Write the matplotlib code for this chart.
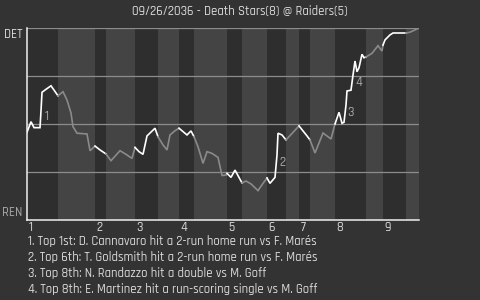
import matplotlib
matplotlib.use("Agg")
import matplotlib.pyplot as plt
from matplotlib.transforms import offset_copy

# game progress (x) and DET win probability (y) at each plotted play
prog = [0, 4, 7, 13, 14, 15, 18, 24, 31, 36, 40, 44, 46, 50, 60, 63, 68, 73, 79, 84,
        93, 99, 105, 108, 112, 116, 120, 128, 131, 136, 140, 143, 148, 152, 160, 164, 167, 171, 176, 180,
        185, 191, 195, 199, 200, 204, 208, 215, 219, 224, 231, 236, 240, 243, 248, 250, 251, 255, 259, 272,
        280, 283, 288, 296, 304, 308, 312, 315, 317, 319, 320, 324, 326, 328, 330, 332, 335, 337, 339, 345,
        351, 355, 356, 358, 363, 366, 379, 383, 392]
win_prob = [0.457, 0.512, 0.481, 0.481, 0.569, 0.665, 0.677, 0.699, 0.647, 0.668, 0.625, 0.557, 0.486, 0.452, 0.448, 0.361, 0.385, 0.365, 0.344, 0.309,
            0.361, 0.342, 0.321, 0.378, 0.356, 0.342, 0.438, 0.478, 0.434, 0.391, 0.365, 0.443, 0.465, 0.478, 0.443, 0.464, 0.434, 0.382, 0.295, 0.356,
            0.347, 0.326, 0.232, 0.234, 0.243, 0.222, 0.260, 0.193, 0.203, 0.188, 0.153, 0.191, 0.219, 0.191, 0.222, 0.339, 0.452, 0.443, 0.417, 0.490,
            0.438, 0.417, 0.349, 0.453, 0.422, 0.500, 0.561, 0.504, 0.509, 0.599, 0.672, 0.676, 0.755, 0.828, 0.772, 0.793, 0.863, 0.845, 0.849, 0.868,
            0.908, 0.880, 0.911, 0.938, 0.964, 0.974, 0.974, 0.978, 1.0]

# start of each half inning (top 1st, bottom 1st, ...) plus game end
half_starts = [0, 31, 68, 79, 108, 131, 152, 167, 200, 215, 240, 259, 272, 283, 308, 339, 356, 379, 392]
innings = ["1", "2", "3", "4", "5", "6", "7", "8", "9"]

key_x = [17.5, 252, 320, 328.5]
key_y = [0.543, 0.304, 0.561, 0.72]
key_notes = [
    "1. Top 1st: D. Cannavaro hit a 2-run home run vs F. Marés",
    "2. Top 6th: T. Goldsmith hit a 2-run home run vs F. Marés",
    "3. Top 8th: N. Randazzo hit a double vs M. Goff",
    "4. Top 8th: E. Martinez hit a run-scoring single vs M. Goff",
]
title = "09/26/2036 - Death Stars(8) @ Raiders(5)"

plt.rcParams["font.family"] = ["Rajdhani", "DejaVu Sans"]
plt.rcParams["font.weight"] = 500

BG = "#333333"
DARK = "#2e2e2e"
LIGHT = "#444444"
TXT = "#d8d8d8"
FS = 9.2

fig = plt.figure(figsize=(4.8, 3.0), dpi=100, facecolor=BG)
ax = fig.add_axes([27 / 480, 1 - 220 / 300, 392 / 480, 192 / 300])
ax.set_facecolor(BG)
ax.set_xlim(half_starts[0], half_starts[-1])
ax.set_ylim(0, 1)

for i in range(len(half_starts) - 1):
    a, b = half_starts[i], half_starts[i + 1]
    top = i % 2 == 0
    ax.axvspan(a, b, color=DARK if top else LIGHT, lw=0, zorder=0)
    xs = [x for x in prog if a <= x <= b]
    ys = [p for x, p in zip(prog, win_prob) if a <= x <= b]
    ax.plot(xs, ys, color="#ffffff" if top else "#8a8a8a", lw=1.2, zorder=3,
            solid_joinstyle="miter")

for g in (0.25, 0.5, 0.75, 1.0):
    ax.axhline(g, color="#8c8c8c", lw=0.9, zorder=1)

for s in ("top", "right"):
    ax.spines[s].set_visible(False)
for s in ("left", "bottom"):
    ax.spines[s].set_color("#f0f0f0")
    ax.spines[s].set_linewidth(1.1)
    ax.spines[s].set_zorder(4)
ax.set_xticks([])
ax.set_yticks([])

for n, x, y in zip(range(1, 5), key_x, key_y):
    ax.text(x, y, str(n), color="#a8a8a8", fontsize=FS, ha="left", va="center", zorder=5)

tr = offset_copy(ax.get_xaxis_transform(), fig=fig, x=1, y=0, units="points")
for lab, x in zip(innings, half_starts[0::2]):
    ax.text(x, -0.035, lab, transform=tr, color=TXT, fontsize=FS, ha="left", va="center")

ax.text(-0.012, 0.968, "DET", transform=ax.transAxes, color=TXT, fontsize=FS, ha="right", va="center")
ax.text(-0.012, 0.04, "REN", transform=ax.transAxes, color="#a8a8a8", fontsize=FS, ha="right", va="center")

fig.text(0.5, 1 - 10 / 300, title, color=TXT, fontsize=FS, ha="center", va="center")
for i, note in enumerate(key_notes):
    fig.text(28 / 480, 1 - (241 + 16 * i) / 300, note, color=TXT, fontsize=FS, ha="left", va="center")

fig.savefig("out.png", dpi=100, facecolor=BG)
